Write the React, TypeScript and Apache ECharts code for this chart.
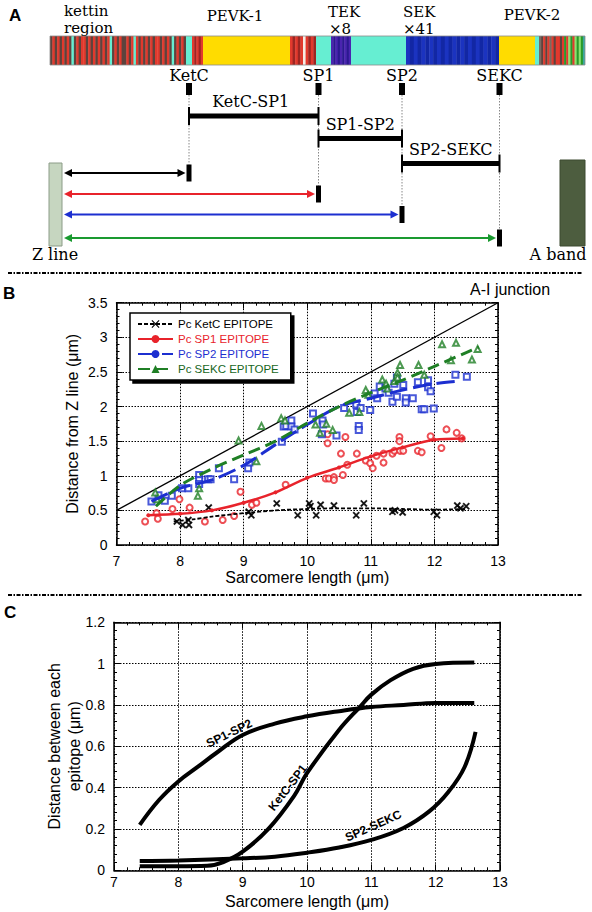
import React, { useEffect, useRef } from "react";
import * as echarts from "echarts";

const SANS = '"Liberation Sans", Arial, Helvetica, sans-serif';
const SERIF = '"DejaVu Serif", "Liberation Serif", serif';
const RED = "#e8232b";
const BLUE = "#1c2fd0";
const GREEN = "#1f7f25";

// ---------------- Panel A (schematic along the titin bar, bar units) ----------------
const barPalette: Record<string, string> = {
  b: "#5d433d", r: "#e2392d", d: "#9c2622", c: "#66eed2", y: "#ffdc00", w: "#f6ece4",
  p: "#4a24b0", q: "#2c1890", s: "#1b33c0", S: "#1227a4", g: "#2a9a2a", G: "#8ee070",
  t: "#3aa8a0", k: "#7a6a60",
};
const barBlocks: [number, number, string][] = [
  [0, 136, "brbrbrbrbcbrbrrbrbrbrbrbrcbrbrbbrbrcrbrbrbrbrrbrbrbcbrbrb"],
  [136, 142, "c"],
  [142, 153, "rdrdr"],
  [153, 240, "y"],
  [240, 266, "rdrdrwrdrd"],
  [266, 281, "c"],
  [281, 301, "pqpqpqpqp"],
  [301, 356, "c"],
  [356, 449, "sSsSsSsSsSsSsSsSsSsSsSsS"],
  [449, 485, "y"],
  [485, 489, "c"],
  [489, 535, "kbrbrkrbrrbrgrGgrGgGgt"],
];
const regionLabels: [string, number, number, string][] = [
  ["kettin", 14, 10.5, "left"],
  ["region", 14, 27.5, "left"],
  ["PEVK-1", 185, 16, "center"],
  ["TEK", 278, 12, "left"],
  ["×8", 279, 28.5, "left"],
  ["SEK", 353, 12, "left"],
  ["×41", 353, 28.5, "left"],
  ["PEVK-2", 482, 15, "center"],
];
const epitopeNames = ["KetC", "SP1", "SP2", "SEKC"];
const epitopePos = [139, 268.5, 352, 449.5];
const epitopeColors = ["#000000", RED, BLUE, "#1a9a30"];
const arrowRows = [173, 194, 214.5, 238];
const bracketNames = ["KetC-SP1", "SP1-SP2", "SP2-SEKC"];
const bracketRows = [116, 138.5, 163.5];
const bracketLabelRows = [101, 124.5, 149.5];
const bandLabels: [string, number, number][] = [["Z line", 5, 254], ["A band", 508, 254]];

// ---------------- Panel B ----------------
const aiJunction = [[7, 0.5], [13, 3.5]];
const ketcPoints = [[7.95, 0.34], [8.04, 0.29], [8.14, 0.29], [8.13, 0.36], [8.45, 0.54], [9.08, 0.48], [9.12, 0.43], [9.52, 0.6], [9.85, 0.43], [10.03, 0.6], [10.05, 0.56], [10.14, 0.43], [10.21, 0.58], [10.42, 0.57], [10.77, 0.43], [10.89, 0.6], [11.34, 0.48], [11.38, 0.5], [11.5, 0.47], [11.99, 0.48], [12.04, 0.43], [12.36, 0.57], [12.41, 0.53], [12.5, 0.56]];
const sp1Points = [[7.45, 0.34], [7.63, 0.46], [7.65, 0.38], [7.88, 0.52], [7.99, 0.66], [8.15, 0.54], [8.39, 0.34], [8.67, 0.36], [8.85, 0.42], [8.95, 0.77], [9.13, 0.58], [9.2, 0.61], [9.66, 0.87], [10.29, 0.96], [10.34, 0.96], [10.42, 0.98], [10.42, 0.94], [10.32, 1.6], [10.32, 1.47], [10.6, 1.56], [10.53, 1.32], [10.63, 1.16], [10.56, 1.01], [10.78, 1.32], [10.92, 1.22], [10.99, 1.18], [11.03, 1.11], [11.09, 1.29], [11.2, 1.32], [11.2, 1.19], [11.34, 1.32], [11.37, 1.36], [11.45, 1.56], [11.45, 1.5], [11.46, 1.36], [11.51, 1.36], [11.74, 1.36], [11.8, 1.34], [11.94, 1.57], [12.11, 1.4], [12.19, 1.67], [12.35, 1.62], [12.43, 1.54]];
const sp2Points = [[7.55, 0.63], [7.66, 0.72], [7.76, 0.64], [7.87, 0.71], [8.03, 0.82], [8.13, 0.82], [8.3, 1.01], [8.3, 0.94], [8.3, 0.88], [8.44, 0.95], [8.48, 0.95], [8.61, 1.11], [8.85, 0.95], [9.07, 1.11], [9.09, 1.19], [9.6, 1.49], [9.63, 1.71], [9.67, 1.72], [9.75, 1.8], [9.75, 1.71], [9.8, 1.67], [10.09, 1.9], [10.23, 1.6], [10.24, 1.8], [10.25, 1.74], [10.46, 1.58], [10.58, 1.98], [10.77, 2.03], [10.78, 1.92], [10.81, 1.72], [10.81, 1.66], [10.84, 1.98], [10.99, 1.95], [11.06, 2.19], [11.1, 2.12], [11.14, 2.29], [11.23, 2.26], [11.28, 2.2], [11.34, 2.07], [11.37, 2.33], [11.41, 2.42], [11.41, 2.14], [11.51, 2.31], [11.55, 2.12], [11.55, 2.06], [11.66, 2.12], [11.74, 2.35], [11.8, 1.96], [11.84, 1.96], [11.9, 2.38], [11.9, 2.28], [11.94, 2.22], [11.99, 1.97], [12.33, 2.46], [12.51, 2.43]];
const sekcPoints = [[7.61, 0.76], [7.64, 0.66], [8.28, 0.71], [8.3, 0.82], [8.92, 1.51], [9.2, 1.21], [9.28, 1.72], [9.59, 1.83], [9.65, 1.8], [10.13, 1.74], [10.2, 1.62], [10.3, 1.75], [10.4, 1.66], [10.66, 1.91], [10.82, 1.92], [10.92, 2.24], [10.96, 2.17], [11.18, 2.39], [11.24, 2.33], [11.26, 2.26], [11.37, 2.37], [11.42, 2.49], [11.42, 2.42], [11.46, 2.6], [11.75, 2.6], [11.84, 2.46], [12.12, 2.9], [12.26, 2.67], [12.34, 2.92], [12.59, 2.68], [12.68, 2.83]];
const ketcFit = [[7.9, 0.34], [8.2, 0.37], [8.5, 0.41], [9, 0.46], [9.5, 0.5], [10, 0.52], [10.5, 0.53], [11, 0.53], [11.5, 0.52], [12, 0.51], [12.5, 0.52]];
const sp1Fit = [[7.5, 0.43], [8, 0.45], [8.5, 0.5], [9, 0.61], [9.5, 0.76], [10, 0.97], [10.5, 1.12], [11, 1.28], [11.5, 1.41], [12, 1.52], [12.45, 1.54]];
const sp2Fit = [[7.55, 0.63], [8, 0.82], [8.5, 0.94], [9, 1.15], [9.5, 1.45], [10, 1.74], [10.5, 2.0], [11, 2.12], [11.5, 2.24], [12, 2.33], [12.4, 2.37]];
const sekcFit = [[7.62, 0.56], [8, 0.86], [8.5, 1.1], [9, 1.3], [9.5, 1.5], [10, 1.76], [10.5, 2.0], [11, 2.2], [11.5, 2.38], [12, 2.58], [12.5, 2.78], [12.7, 2.86]];
const legendNames = ["Pc KetC EPITOPE", "Pc SP1 EPITOPE", "Pc SP2 EPITOPE", "Pc SEKC EPITOPE"];

// ---------------- Panel C ----------------
const sp1sp2Curve = [[7.4, 0.22], [7.7, 0.34], [8, 0.43], [8.3, 0.5], [8.6, 0.57], [9, 0.655], [9.5, 0.71], [10, 0.745], [10.5, 0.77], [11, 0.79], [11.5, 0.8], [12, 0.81], [12.6, 0.81]];
const ketcSp1Curve = [[7.4, 0.02], [8.0, 0.02], [8.45, 0.022], [8.7, 0.04], [9.0, 0.09], [9.4, 0.2], [9.8, 0.36], [10.0, 0.47], [10.5, 0.68], [10.82, 0.79], [11.0, 0.85], [11.3, 0.92], [11.65, 0.975], [12.0, 0.998], [12.6, 1.005]];
const sp2SekcCurve = [[7.4, 0.045], [8, 0.048], [9, 0.058], [9.5, 0.066], [10, 0.085], [10.5, 0.11], [11, 0.147], [11.5, 0.205], [11.9, 0.285], [12.2, 0.38], [12.45, 0.5], [12.62, 0.67]];
const curveLabels: [string, number, number, number][] = [
  ["SP1-SP2", 8.79, 0.663, 26],
  ["KetC-SP1", 9.7, 0.4, 52],
  ["SP2-SEKC", 11.03, 0.215, 24],
];

const XPATH = "path://M0,1L1,0L5,4L9,0L10,1L6,5L10,9L9,10L5,6L1,10L0,9L4,5Z";

function renderSchematic(_params: any, api: any) {
  const P = (u: number, v: number) => api.coord([u, v]);
  const kids: any[] = [];
  const rect = (u0: number, v0: number, u1: number, v1: number, style: any) => {
    const a = P(u0, v0), b = P(u1, v1);
    kids.push({ type: "rect", shape: { x: Math.min(a[0], b[0]), y: Math.min(a[1], b[1]), width: Math.abs(b[0] - a[0]), height: Math.abs(b[1] - a[1]) }, style });
  };
  const line = (u0: number, v0: number, u1: number, v1: number, style: any) => {
    const a = P(u0, v0), b = P(u1, v1);
    kids.push({ type: "line", shape: { x1: a[0], y1: a[1], x2: b[0], y2: b[1] }, style });
  };
  const poly = (pts: number[][], fill: string) => {
    kids.push({ type: "polygon", shape: { points: pts.map((p) => P(p[0], p[1])) }, style: { fill } });
  };
  const text = (u: number, v: number, t: string, size: number, align: string) => {
    const a = P(u, v);
    kids.push({ type: "text", style: { text: t, x: a[0], y: a[1], fontSize: size, fontFamily: SERIF, fill: "#000", align, verticalAlign: "middle" } });
  };
  const barTop = 36, barBot = 65;
  barBlocks.forEach(([s, e, pat]) => {
    const n = pat.length, w = (e - s) / n;
    for (let i = 0; i < n; i++) {
      rect(s + i * w, barTop, s + (i + 1) * w + (i < n - 1 ? 0.4 : 0), barBot, { fill: barPalette[pat[i]] });
    }
  });
  rect(0, barTop, 535, barBot, { fill: "none", stroke: "#8a8a8a", lineWidth: 0.8 });
  regionLabels.forEach(([t, u, v, al]) => text(u, v, t, 15, al));
  epitopePos.forEach((ep, i) => {
    rect(ep - 3, 83, ep + 3, 95, { fill: "#000" });
    text(ep, 75, epitopeNames[i], 16, "center");
    line(ep, 95, ep, arrowRows[i] - 8.5, { stroke: "#888", lineWidth: 1, lineDash: [1.5, 1.5] });
    rect(ep - 2.5, arrowRows[i] - 8.5, ep + 2.5, arrowRows[i] + 8.5, { fill: "#000" });
    const x0 = 14, x1 = ep - 3.5, r = arrowRows[i], c = epitopeColors[i];
    line(x0 + 5, r, x1 - 5, r, { stroke: c, lineWidth: 2.2 });
    poly([[x0, r], [x0 + 8, r - 4], [x0 + 8, r + 4]], c);
    poly([[x1, r], [x1 - 8, r - 4], [x1 - 8, r + 4]], c);
  });
  bracketNames.forEach((nm, i) => {
    const a = epitopePos[i], b = epitopePos[i + 1], r = bracketRows[i];
    line(a, r, b, r, { stroke: "#000", lineWidth: 5 });
    line(a, r - 9, a, r + 9, { stroke: "#000", lineWidth: 2 });
    line(b, r - 9, b, r + 9, { stroke: "#000", lineWidth: 2 });
    text((a + b) / 2 + (i === 0 ? -3 : 0), bracketLabelRows[i], nm, 16, "center");
  });
  rect(-1, 163, 12, 246, { fill: "#c6d6c0", stroke: "#8c9c88", lineWidth: 1 });
  rect(510, 160, 535, 246, { fill: "#4d5d3f", stroke: "#3c4a30", lineWidth: 1 });
  bandLabels.forEach(([t, u, v]) => text(u, v, t, 16, "center"));
  return { type: "group", children: kids };
}

const axisX = (gridIndex: number, position: string, main: boolean, name?: string, nameGap?: number, margin = 9) => ({
  type: "value", gridIndex, position, min: 7, max: 13, interval: 1,
  axisLine: { show: true, onZero: false, lineStyle: { color: "#000", width: 1.5 } },
  axisTick: { show: true, inside: true, length: 6, lineStyle: { color: "#000", width: 1 } },
  minorTick: { show: true, splitNumber: 5, length: 3, lineStyle: { color: "#000", width: 1 } },
  axisLabel: { show: main, margin, fontSize: 14, fontFamily: SANS, color: "#000" },
  splitLine: { show: main, lineStyle: { color: "#000", type: [1.5, 1.5], width: 1 } },
  name: main ? name : undefined, nameLocation: "middle", nameGap, nameMoveOverlap: false,
  nameTextStyle: { fontSize: 16, fontFamily: SANS, color: "#000" },
});
const axisY = (gridIndex: number, position: string, main: boolean, max: number, interval: number, name?: string, nameGap?: number) => ({
  type: "value", gridIndex, position, min: 0, max, interval,
  axisLine: { show: true, onZero: false, lineStyle: { color: "#000", width: 1.5 } },
  axisTick: { show: true, inside: true, length: 6, lineStyle: { color: "#000", width: 1 } },
  minorTick: { show: true, splitNumber: 5, length: 3, lineStyle: { color: "#000", width: 1 } },
  axisLabel: { show: main, margin: 9, fontSize: 14, fontFamily: SANS, color: "#000" },
  splitLine: { show: main, lineStyle: { color: "#000", type: [1.5, 1.5], width: 1 } },
  name: main ? name : undefined, nameLocation: "middle", nameGap, nameMoveOverlap: false,
  nameTextStyle: { fontSize: 16, fontFamily: SANS, color: "#000", lineHeight: 20 },
});

export default function App() {
  const ref = useRef<HTMLDivElement>(null);
  useEffect(() => {
    if (!ref.current) return;
    const chart = echarts.init(ref.current, undefined, { renderer: "svg" });
    const bSeries = (name: string, fit: number[][], pts: number[][], color: string, sym: string, lineType: any, lw: number, ptSym: string, showSym: boolean) => [
      {
        name, type: "line", xAxisIndex: 0, yAxisIndex: 0, data: fit, smooth: 0.3,
        symbol: sym, symbolSize: showSym ? 4 : 7, showSymbol: showSym,
        lineStyle: { color, width: lw, type: lineType }, itemStyle: { color }, z: 4,
      },
      {
        name: name + " data", type: "scatter", xAxisIndex: 0, yAxisIndex: 0, data: pts,
        symbol: ptSym, symbolSize: 6, itemStyle: { color, borderColor: color, borderWidth: 1.1 }, z: 3,
      },
    ];
    const cSeries = (name: string, data: number[][], lbl: [string, number, number, number]) => ({
      name, type: "line", xAxisIndex: 2, yAxisIndex: 2, data, smooth: 0.4, symbol: "none",
      lineStyle: { color: "#000", width: 4 }, z: 3,
      markPoint: {
        symbol: "circle", symbolSize: 0, silent: true,
        data: [{ coord: [lbl[1], lbl[2]] }],
        label: { show: true, position: "inside", formatter: lbl[0], rotate: lbl[3], fontSize: 12, fontWeight: "bold", fontFamily: SANS, color: "#000" },
      },
    });
    const option: any = {
      animation: false,
      backgroundColor: "#fff",
      textStyle: { fontFamily: SANS },
      grid: [
        { left: 116.5, top: 302.7, width: 381.5, height: 242.3 },
        { left: 114, top: 622.3, width: 386, height: 248 },
        { left: 50, top: 0, width: 535, height: 290 },
      ],
      xAxis: [
        axisX(0, "bottom", true, "Sarcomere length (μm)", 24),
        axisX(0, "top", false),
        axisX(1, "bottom", true, "Sarcomere length (μm)", 23, 5),
        axisX(1, "top", false),
        { type: "value", gridIndex: 2, min: 0, max: 535, show: false },
      ],
      yAxis: [
        axisY(0, "left", true, 3.5, 0.5, "Distance from Z line (μm)", 34),
        axisY(0, "right", false, 3.5, 0.5),
        axisY(1, "left", true, 1.2, 0.2, "Distance between each\nepitope (μm)", 30),
        axisY(1, "right", false, 1.2, 0.2),
        { type: "value", gridIndex: 2, min: 0, max: 290, inverse: true, show: false },
      ],
      legend: {
        data: [
          { name: legendNames[0], textStyle: { color: "#000" } },
          { name: legendNames[1], textStyle: { color: RED } },
          { name: legendNames[2], textStyle: { color: BLUE } },
          { name: legendNames[3], textStyle: { color: "#17661c" } },
        ],
        orient: "vertical", left: 130, top: 313, itemWidth: 35, itemHeight: 10, itemGap: 3,
        padding: [5, 12, 5, 7], backgroundColor: "#fff", borderColor: "#000", borderWidth: 1.5,
        shadowColor: "#000", shadowOffsetX: 3, shadowOffsetY: 3, shadowBlur: 0,
        textStyle: { fontSize: 11.5, fontFamily: SANS }, selectedMode: false,
      },
      graphic: [
        { type: "line", shape: { x1: 8, y1: 273, x2: 582, y2: 273 }, style: { stroke: "#000", lineWidth: 2, lineDash: [4, 1.5, 1.5, 1.5] } },
        { type: "line", shape: { x1: 8, y1: 595, x2: 582, y2: 595 }, style: { stroke: "#000", lineWidth: 2, lineDash: [4, 1.5, 1.5, 1.5] } },
        { type: "text", left: 9, top: 7, style: { text: "A", fontSize: 17, fontWeight: "bold", fontFamily: SANS, fill: "#000" } },
        { type: "text", left: 3, top: 285, style: { text: "B", fontSize: 17, fontWeight: "bold", fontFamily: SANS, fill: "#000" } },
        { type: "text", left: 4, top: 604, style: { text: "C", fontSize: 17, fontWeight: "bold", fontFamily: SANS, fill: "#000" } },
      ],
      series: [
        {
          type: "custom", xAxisIndex: 4, yAxisIndex: 4, data: [[0, 0]], renderItem: renderSchematic, silent: true, clip: false,
        },
        {
          name: "A-I junction", type: "line", xAxisIndex: 0, yAxisIndex: 0, data: aiJunction, symbol: "none",
          lineStyle: { color: "#000", width: 1.3 }, z: 2, silent: true,
          markPoint: {
            symbol: "circle", symbolSize: 0, silent: true, data: [{ coord: [13, 3.5] }],
            label: { show: true, position: "top", distance: 5, offset: [12, 0], formatter: "A-I junction", fontSize: 16, fontFamily: SANS, color: "#000" },
          },
        },
        ...bSeries(legendNames[0], ketcFit, ketcPoints, "#000", XPATH, [4, 2], 1.8, XPATH, false),
        ...bSeries(legendNames[1], sp1Fit, sp1Points, RED, "circle", "solid", 2.5, "emptyCircle", true),
        ...bSeries(legendNames[2], sp2Fit, sp2Points, BLUE, "circle", [18, 6], 3, "emptyRect", false),
        ...bSeries(legendNames[3], sekcFit, sekcPoints, GREEN, "triangle", [12, 6], 3, "emptyTriangle", false),
        cSeries("SP1-SP2", sp1sp2Curve, curveLabels[0]),
        cSeries("KetC-SP1", ketcSp1Curve, curveLabels[1]),
        cSeries("SP2-SEKC", sp2SekcCurve, curveLabels[2]),
      ],
    };
    chart.setOption(option);
    return () => chart.dispose();
  }, []);
  return <div ref={ref} style={{ position: "absolute", left: 0, top: 0, width: 592, height: 912, background: "#fff" }} />;
}
